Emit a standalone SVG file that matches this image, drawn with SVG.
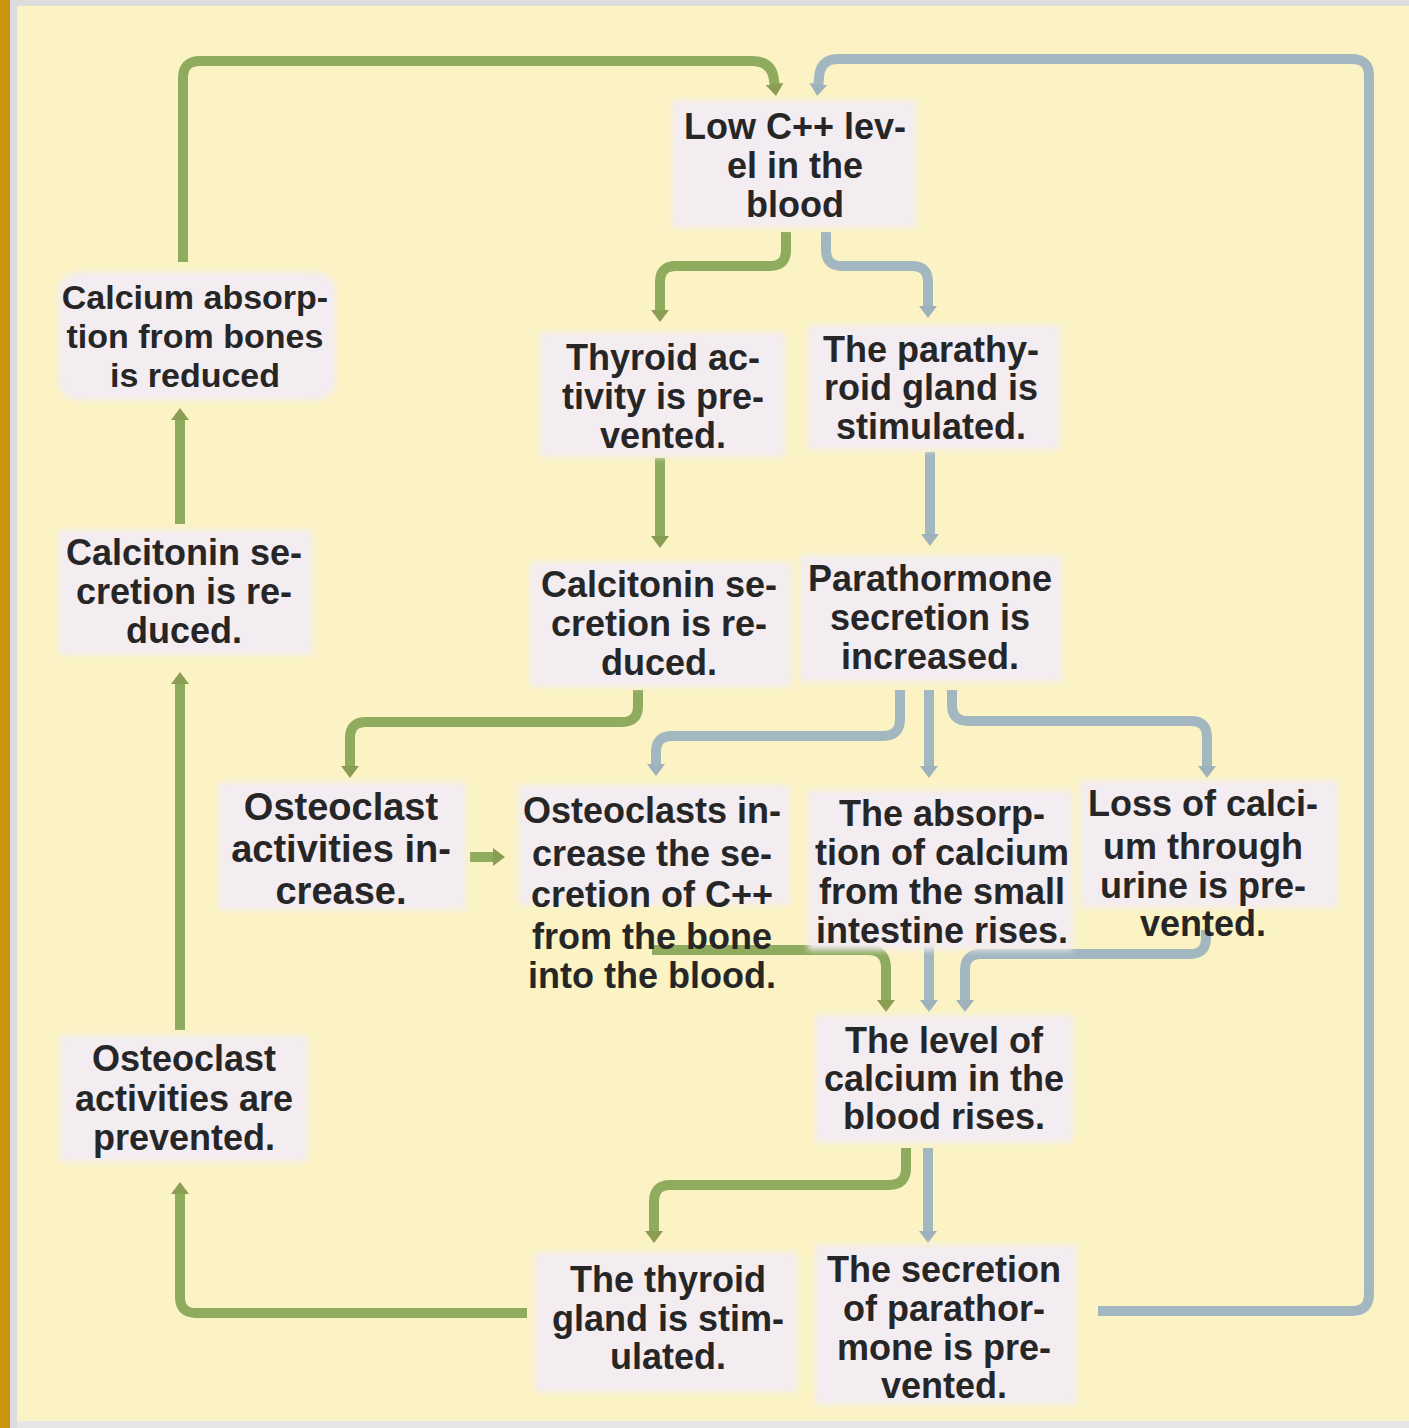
<svg xmlns="http://www.w3.org/2000/svg" width="1409" height="1428" viewBox="0 0 1409 1428">
<style>
.bg{fill:#fbf3c3}
.box{fill:#f3ecf1;filter:url(#soft)}
.t{font-family:"Liberation Sans",Arial,sans-serif;font-weight:bold;font-size:36px;fill:#262626;text-anchor:middle}
.s34{font-size:34px}
.s38{font-size:38px}
.g{fill:none;stroke:#8fab5e;stroke-width:10;stroke-linejoin:round}
.b{fill:none;stroke:#a3b7c1;stroke-width:10;stroke-linejoin:round}
.ga{marker-end:url(#ag)}
.ba{marker-end:url(#ab)}
</style>
<defs>
<filter id="soft" x="-10%" y="-10%" width="120%" height="120%"><feGaussianBlur stdDeviation="3"/></filter>
<marker id="ag" viewBox="0 0 12 18" refX="4" refY="9" markerWidth="12" markerHeight="18" markerUnits="userSpaceOnUse" orient="auto"><path d="M0,0 L12,9 L0,18 z" fill="#8a9d52"/></marker>
<marker id="ab" viewBox="0 0 12 18" refX="4" refY="9" markerWidth="12" markerHeight="18" markerUnits="userSpaceOnUse" orient="auto"><path d="M0,0 L12,9 L0,18 z" fill="#9db2bd"/></marker>
</defs>
<rect class="bg" x="0" y="0" width="1409" height="1428"/>
<rect x="0" y="0" width="1409" height="6" fill="#dcdcdc"/>
<rect x="0" y="1421" width="1409" height="7" fill="#e6e6e6"/>
<rect x="10" y="0" width="7" height="1428" fill="#dcdcdf"/>
<rect x="0" y="0" width="10" height="1428" fill="#c8960c"/>

<g id="connectors">
<path class="g ga" d="M183,262 V78 Q183,61 200,61 H752 Q772,61 774,80 L775,88"/>
<path class="b ba" d="M1098,1311 H1352 Q1369,1311 1369,1294 V76 Q1369,59 1352,59 H838 Q820,59 819,78 L818,88"/>
<path class="g ga" d="M786,232 V250 Q786,266 770,266 H676 Q660,266 660,282 V314"/>
<path class="b ba" d="M826,232 V250 Q826,266 842,266 H912 Q928,266 928,282 V310"/>
<path class="g ga" d="M660,458 V540"/>
<path class="b ba" d="M930,452 V538"/>
<path class="g ga" d="M638,690 V706 Q638,722 622,722 H366 Q350,722 350,738 V770"/>
<path class="b ba" d="M900,690 V719 Q900,736 883,736 H672 Q656,736 656,752 V768"/>
<path class="b ba" d="M929,690 V770"/>
<path class="b ba" d="M952,690 V705 Q952,721 968,721 H1191 Q1207,721 1207,737 V770"/>
<path class="g ga" d="M470,857 H497"/>
<path class="g ga" d="M652,950 H868 Q886,950 886,968 V1004"/>
<path class="b ba" d="M929,935 V1004"/>
<path class="b ba" d="M1206,930 V938 Q1206,954 1190,954 H981 Q965,954 965,970 V1004"/>
<path class="g ga" d="M906,1148 V1168 Q906,1185 889,1185 H670 Q654,1185 654,1202 V1235"/>
<path class="b ba" d="M928,1148 V1235"/>
<path class="g ga" d="M527,1313 H196 Q180,1313 180,1297 V1190"/>
<path class="g ga" d="M180,1030 V680"/>
<path class="g ga" d="M180,524 V416"/>
</g>

<g id="n-low"><rect class="box" x="672" y="100" width="244" height="128"/>
<text class="t" x="795" y="139">Low C++ lev-</text><text class="t" x="795" y="178">el in the</text><text class="t" x="795" y="217">blood</text></g>

<g id="n-calcium-absorption"><rect class="box" x="58" y="272" width="278" height="128" rx="20"/>
<text class="t s34" x="195" y="309">Calcium absorp-</text><text class="t s34" x="195" y="348">tion from bones</text><text class="t s34" x="195" y="387">is reduced</text></g>

<g id="n-thyroid-prevented"><rect class="box" x="540" y="332" width="245" height="125"/>
<text class="t" x="663" y="370">Thyroid ac-</text><text class="t" x="663" y="409">tivity is pre-</text><text class="t" x="663" y="448">vented.</text></g>

<g id="n-parathyroid-stimulated"><rect class="box" x="808" y="325" width="252" height="125"/>
<text class="t" x="931" y="362">The parathy-</text><text class="t" x="931" y="400">roid gland is</text><text class="t" x="931" y="439">stimulated.</text></g>

<g id="n-calcitonin-left"><rect class="box" x="58" y="530" width="255" height="125"/>
<text class="t" x="184" y="565">Calcitonin se-</text><text class="t" x="184" y="604">cretion is re-</text><text class="t" x="184" y="643">duced.</text></g>

<g id="n-calcitonin-mid"><rect class="box" x="530" y="562" width="262" height="125"/>
<text class="t" x="659" y="597">Calcitonin se-</text><text class="t" x="659" y="636">cretion is re-</text><text class="t" x="659" y="675">duced.</text></g>

<g id="n-parathormone"><rect class="box" x="800" y="555" width="262" height="127"/>
<text class="t" x="930" y="591">Parathormone</text><text class="t" x="930" y="630">secretion is</text><text class="t" x="930" y="669">increased.</text></g>

<g id="n-osteoclast-increase"><rect class="box" x="218" y="782" width="248" height="128"/>
<text class="t s38" x="341" y="820">Osteoclast</text><text class="t s38" x="341" y="862">activities in-</text><text class="t s38" x="341" y="904">crease.</text></g>

<g id="n-osteoclasts-secretion"><rect class="box" x="518" y="785" width="272" height="120"/>
<text class="t" x="652" y="823">Osteoclasts in-</text><text class="t" x="652" y="866">crease the se-</text><text class="t" x="652" y="907">cretion of C++</text><text class="t" x="652" y="949">from the bone</text><text class="t" x="652" y="988">into the blood.</text></g>

<g id="n-absorption"><rect class="box" x="808" y="790" width="265" height="160"/>
<text class="t" x="942" y="826">The absorp-</text><text class="t" x="942" y="865">tion of calcium</text><text class="t" x="942" y="904">from the small</text><text class="t" x="942" y="943">intestine rises.</text></g>

<g id="n-loss"><rect class="box" x="1080" y="780" width="258" height="128"/>
<text class="t" x="1203" y="816">Loss of calci-</text><text class="t" x="1203" y="859">um through</text><text class="t" x="1203" y="898">urine is pre-</text><text class="t" x="1203" y="936">vented.</text></g>

<g id="n-level-rises"><rect class="box" x="815" y="1015" width="258" height="128"/>
<text class="t" x="944" y="1053">The level of</text><text class="t" x="944" y="1091">calcium in the</text><text class="t" x="944" y="1129">blood rises.</text></g>

<g id="n-osteoclast-prevented"><rect class="box" x="60" y="1035" width="248" height="127"/>
<text class="t" x="184" y="1071">Osteoclast</text><text class="t" x="184" y="1111">activities are</text><text class="t" x="184" y="1150">prevented.</text></g>

<g id="n-thyroid-stimulated"><rect class="box" x="535" y="1252" width="262" height="140"/>
<text class="t" x="668" y="1292">The thyroid</text><text class="t" x="668" y="1331">gland is stim-</text><text class="t" x="668" y="1369">ulated.</text></g>

<g id="n-parathormone-prevented"><rect class="box" x="815" y="1245" width="262" height="160"/>
<text class="t" x="944" y="1282">The secretion</text><text class="t" x="944" y="1321">of parathor-</text><text class="t" x="944" y="1360">mone is pre-</text><text class="t" x="944" y="1398">vented.</text></g>
</svg>
